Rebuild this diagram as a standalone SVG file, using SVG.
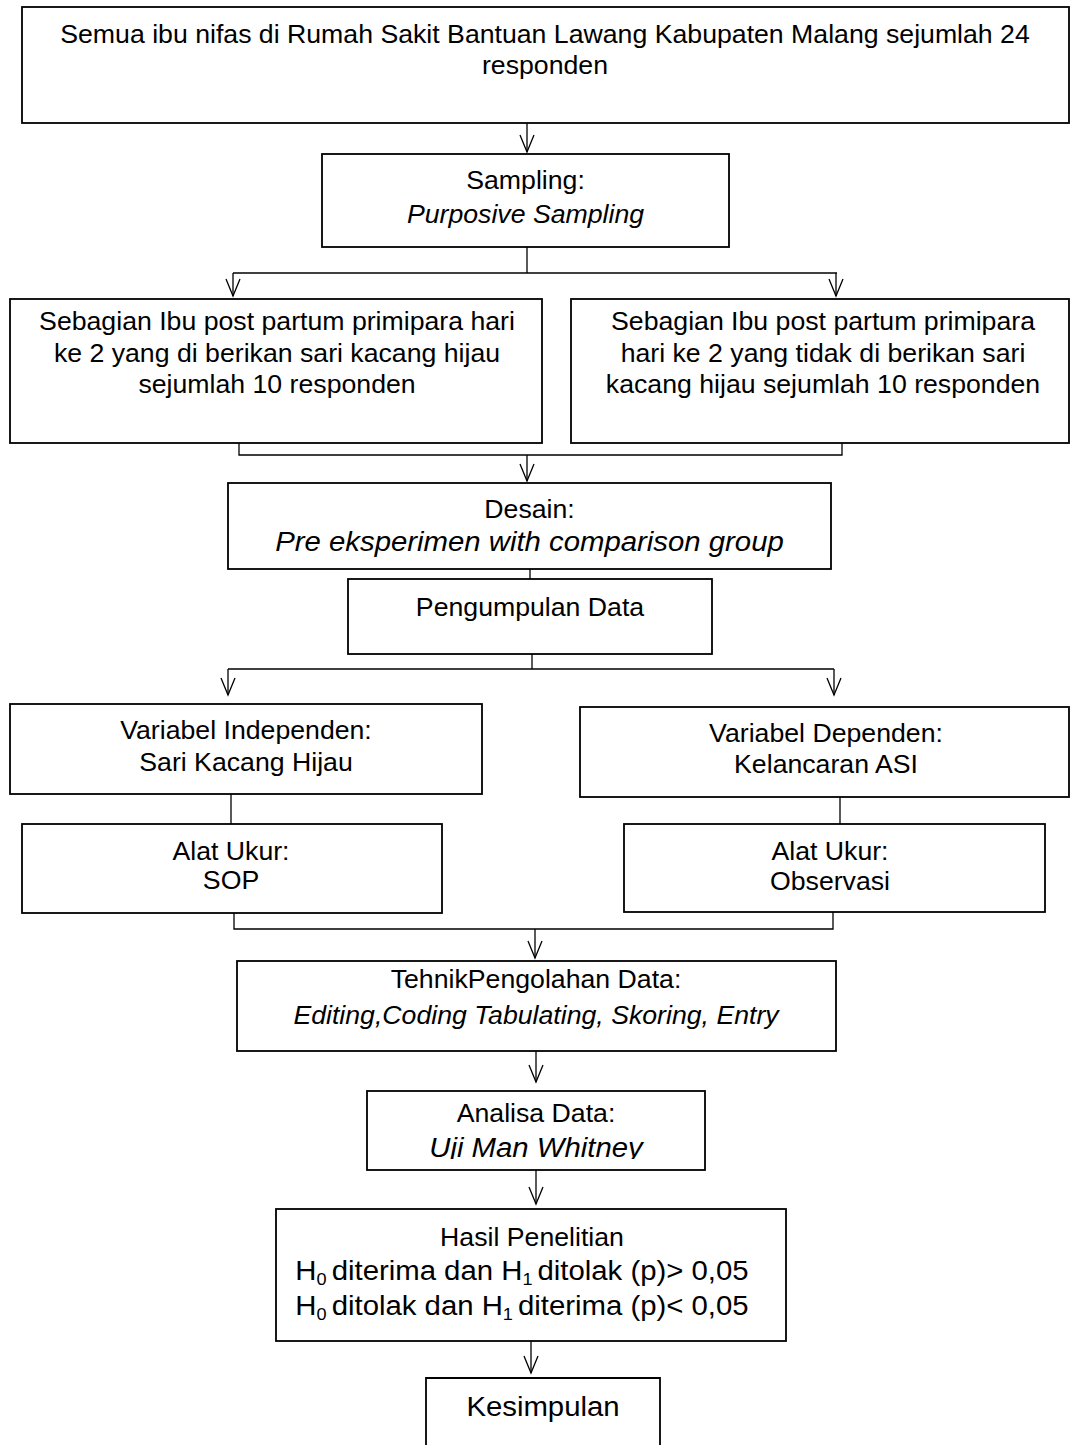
<svg xmlns="http://www.w3.org/2000/svg" xmlns:xlink="http://www.w3.org/1999/xlink" width="1070" height="1445" viewBox="0 0 1070 1445">
<style>
.box{fill:#fff;stroke:#000;stroke-width:1.8}
.open{fill:none;stroke:#000;stroke-width:1.8}
.ln{fill:none;stroke:#000;stroke-width:1.3}
.t{font-family:"Liberation Sans",Arial,sans-serif;font-size:25px;text-anchor:middle;fill:#000}
.L{font-size:27.5px}
.i{font-style:italic}
.sub{font-size:17px}
</style>
<defs>
<polyline id="ah" points="-7,-17 0,0 7,-17" fill="none" stroke="#000" stroke-width="1.3"/>
<clipPath id="clipUji"><rect x="367" y="1090" width="338" height="69"/></clipPath>
</defs>
<rect width="1070" height="1445" fill="#fff"/>

<g id="connectors">
<line class="ln" x1="527" y1="123" x2="527" y2="152"/>
<use xlink:href="#ah" x="527" y="152"/>
<polyline class="ln" points="527,247 527,273"/>
<polyline class="ln" points="233,273 837,273"/>
<line class="ln" x1="233" y1="273" x2="233" y2="296"/>
<use xlink:href="#ah" x="233" y="296"/>
<line class="ln" x1="836" y1="273" x2="836" y2="296"/>
<use xlink:href="#ah" x="836" y="296"/>
<polyline class="ln" points="239,443 239,455 842,455 842,443"/>
<line class="ln" x1="527" y1="455" x2="527" y2="481"/>
<use xlink:href="#ah" x="527" y="481"/>
<line class="ln" x1="530" y1="569" x2="530" y2="579"/>
<line class="ln" x1="532" y1="654" x2="532" y2="669"/>
<polyline class="ln" points="228,669 834,669"/>
<line class="ln" x1="228" y1="669" x2="228" y2="695"/>
<use xlink:href="#ah" x="228" y="695"/>
<line class="ln" x1="834" y1="669" x2="834" y2="695"/>
<use xlink:href="#ah" x="834" y="695"/>
<line class="ln" x1="231" y1="794" x2="231" y2="824"/>
<line class="ln" x1="840" y1="797" x2="840" y2="824"/>
<polyline class="ln" points="234,913 234,929 833,929 833,912"/>
<line class="ln" x1="535" y1="929" x2="535" y2="958"/>
<use xlink:href="#ah" x="535" y="958"/>
<line class="ln" x1="536" y1="1051" x2="536" y2="1082"/>
<use xlink:href="#ah" x="536" y="1082"/>
<line class="ln" x1="536" y1="1170" x2="536" y2="1204"/>
<use xlink:href="#ah" x="536" y="1204"/>
<line class="ln" x1="531" y1="1341" x2="531" y2="1373"/>
<use xlink:href="#ah" x="531" y="1373"/>
</g>

<g id="n-populasi">
<rect class="box" x="22" y="7" width="1047" height="116"/>
<text class="t" transform="translate(545 43) scale(1.067 1)">Semua ibu nifas di Rumah Sakit Bantuan Lawang Kabupaten Malang sejumlah 24</text>
<text class="t" transform="translate(545 74) scale(1.067 1)">responden</text>
</g>

<g id="n-sampling">
<rect class="box" x="322" y="154" width="407" height="93"/>
<text class="t" transform="translate(525.5 189) scale(1.067 1)">Sampling:</text>
<text class="t i" transform="translate(525.5 223) scale(1.067 1)">Purposive Sampling</text>
</g>

<g id="n-kelompok1">
<rect class="box" x="10" y="299" width="532" height="144"/>
<text class="t" transform="translate(277 330) scale(1.067 1)">Sebagian Ibu post partum primipara hari</text>
<text class="t" transform="translate(277 362) scale(1.067 1)">ke 2 yang di berikan sari kacang hijau</text>
<text class="t" transform="translate(277 393) scale(1.067 1)">sejumlah 10 responden</text>
</g>

<g id="n-kelompok2">
<rect class="box" x="571" y="299" width="498" height="144"/>
<text class="t" transform="translate(823 330) scale(1.067 1)">Sebagian Ibu post partum primipara</text>
<text class="t" transform="translate(823 362) scale(1.067 1)">hari ke 2 yang tidak di berikan sari</text>
<text class="t" transform="translate(823 393) scale(1.067 1)">kacang hijau sejumlah 10 responden</text>
</g>

<g id="n-desain">
<rect class="box" x="228" y="483" width="603" height="86"/>
<text class="t" transform="translate(529.5 518) scale(1.067 1)">Desain:</text>
<text class="t L i" transform="translate(529.5 551) scale(1.067 1)">Pre eksperimen with comparison group</text>
</g>

<g id="n-pengumpulan">
<rect class="box" x="348" y="579" width="364" height="75"/>
<text class="t" transform="translate(530 616) scale(1.067 1)">Pengumpulan Data</text>
</g>

<g id="n-independen">
<rect class="box" x="10" y="704" width="472" height="90"/>
<text class="t" transform="translate(246 739) scale(1.067 1)">Variabel Independen:</text>
<text class="t" transform="translate(246 771) scale(1.067 1)">Sari Kacang Hijau</text>
</g>

<g id="n-dependen">
<rect class="box" x="580" y="707" width="489" height="90"/>
<text class="t" transform="translate(826 742) scale(1.067 1)">Variabel Dependen:</text>
<text class="t" transform="translate(826 773) scale(1.067 1)">Kelancaran ASI</text>
</g>

<g id="n-alat-sop">
<rect class="box" x="22" y="824" width="420" height="89"/>
<text class="t" transform="translate(231 860) scale(1.067 1)">Alat Ukur:</text>
<text class="t" transform="translate(231 889) scale(1.067 1)">SOP</text>
</g>

<g id="n-alat-observasi">
<rect class="box" x="624" y="824" width="421" height="88"/>
<text class="t" transform="translate(830 860) scale(1.067 1)">Alat Ukur:</text>
<text class="t" transform="translate(830 890) scale(1.067 1)">Observasi</text>
</g>

<g id="n-pengolahan">
<rect class="box" x="237" y="961" width="599" height="90"/>
<text class="t" transform="translate(536 988) scale(1.067 1)">TehnikPengolahan Data:</text>
<text class="t i" transform="translate(536 1024) scale(1.067 1)">Editing,Coding Tabulating, Skoring, Entry</text>
</g>

<g id="n-analisa">
<rect class="box" x="367" y="1091" width="338" height="79"/>
<text class="t" transform="translate(536 1122) scale(1.067 1)">Analisa Data:</text>
<g clip-path="url(#clipUji)">
<text class="t L i" transform="translate(536 1157) scale(1.067 1)">Uji Man Whitney</text>
</g>
</g>

<g id="n-hasil">
<rect class="box" x="276" y="1209" width="510" height="132"/>
<text class="t" transform="translate(532 1246) scale(1.067 1)">Hasil Penelitian</text>
<text class="t L" transform="translate(522 1280) scale(1.067 1)">H<tspan class="sub" dy="5">0 </tspan><tspan dy="-5">diterima dan H</tspan><tspan class="sub" dy="5">1 </tspan><tspan dy="-5">ditolak (p)&gt; 0,05</tspan></text>
<text class="t L" transform="translate(522 1315) scale(1.067 1)">H<tspan class="sub" dy="5">0 </tspan><tspan dy="-5">ditolak dan H</tspan><tspan class="sub" dy="5">1 </tspan><tspan dy="-5">diterima (p)&lt; 0,05</tspan></text>
</g>

<g id="n-kesimpulan">
<polyline class="open" points="426,1450 426,1378 660,1378 660,1450"/>
<text class="t L" transform="translate(543 1416) scale(1.067 1)">Kesimpulan</text>
</g>
</svg>
